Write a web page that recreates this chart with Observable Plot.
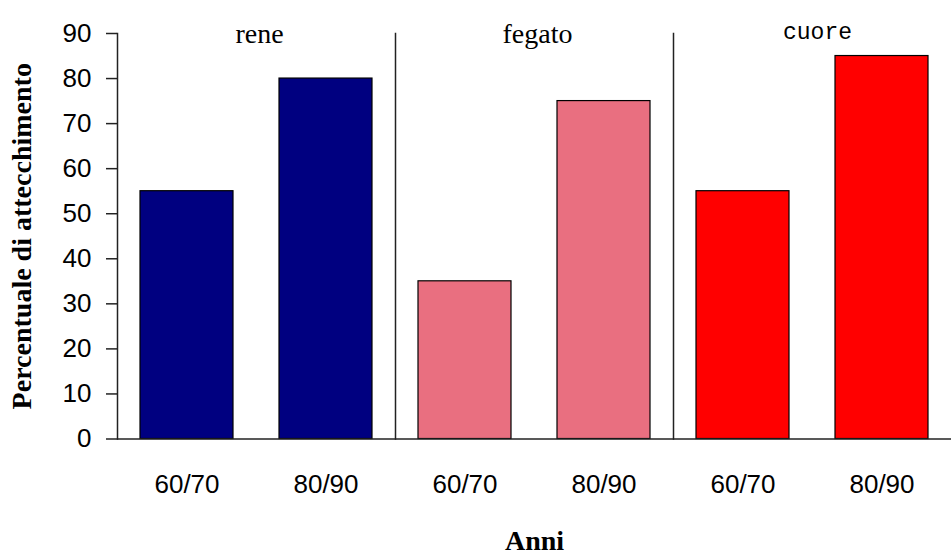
<!DOCTYPE html>
<html>
<head>
<meta charset="utf-8">
<script src="https://cdn.jsdelivr.net/npm/d3@7"></script>
<script src="https://cdn.jsdelivr.net/npm/@observablehq/plot@0.6"></script>
<style>
  html, body { margin: 0; padding: 0; background: #fff; }
  #chart svg { display: block; }
</style>
</head>
<body>
<div id="chart"></div>
<script>
// Organs (groups) and periods (bars within each group)
const organs = ["rene", "fegato", "cuore"];
const periods = ["60/70", "80/90"];

// Percentuale di attecchimento per organ, one value per period
const rene = [55, 80];
const fegato = [35, 75];
const cuore = [55, 85];

// Y-axis tick values
const yTicks = [0, 10, 20, 30, 40, 50, 60, 70, 80, 90];

const series = {rene, fegato, cuore};
const rows = organs.flatMap(organ =>
  periods.map((period, i) => ({organ, period, value: series[organ][i]}))
);

const sans = "'Liberation Sans', Arial, sans-serif";
const serif = "'Liberation Serif', 'Times New Roman', serif";
const mono = "'Liberation Mono', 'Courier New', monospace";

const chart = Plot.plot({
  width: 951,
  height: 557,
  marginTop: 33,
  marginLeft: 116,
  marginRight: 0,
  marginBottom: 118.5,
  style: {background: "#fff", color: "#000", fontFamily: sans},
  fx: {domain: organs, padding: 0},
  x: {domain: periods, paddingInner: 0.33, paddingOuter: 0.165},
  y: {domain: [0, 90]},
  color: {domain: organs, range: ["#000080", "#E96F80", "#FF0000"]},
  marks: [
    Plot.barY(rows, {
      fx: "organ", x: "period", y: "value",
      fill: "organ", stroke: "#000", strokeWidth: 1.2
    }),
    // group separators (the first one is the y-axis line)
    Plot.frame({anchor: "left", stroke: "#222", strokeWidth: 1.5}),
    Plot.ruleY([0], {stroke: "#222", strokeWidth: 1.5}),
    Plot.axisY({
      ticks: yTicks, tickSize: 11, tickPadding: 15,
      fontSize: 26, fontFamily: sans, stroke: "#222", strokeWidth: 1.5,
      label: null
    }),
    Plot.axisY({
      ticks: [], tickSize: 0, label: "Percentuale di attecchimento",
      labelAnchor: "center", labelArrow: "none", labelOffset: 106,
      fontSize: 28, fontFamily: serif, fontWeight: "bold"
    }),
    Plot.axisX({
      tickSize: 0, tickPadding: 36, fontSize: 26, fontFamily: sans, label: null
    }),
    Plot.axisFx({
      anchor: "bottom", tickSize: 0, tickFormat: () => "",
      label: "Anni", labelAnchor: "center", labelArrow: "none", labelOffset: 111,
      fontSize: 28, fontFamily: serif, fontWeight: "bold"
    }),
    // group names along the top of each panel
    Plot.text(organs.filter(d => d !== "cuore"), {
      fx: d => d, text: d => d, frameAnchor: "top", dy: -10, dx: 3,
      fontSize: 28, fontFamily: serif
    }),
    Plot.text(organs.filter(d => d === "cuore"), {
      fx: d => d, text: d => d, frameAnchor: "top", dy: -11, dx: 5,
      fontSize: 23, fontFamily: mono
    })
  ]
});

document.getElementById("chart").appendChild(chart);
</script>
</body>
</html>
